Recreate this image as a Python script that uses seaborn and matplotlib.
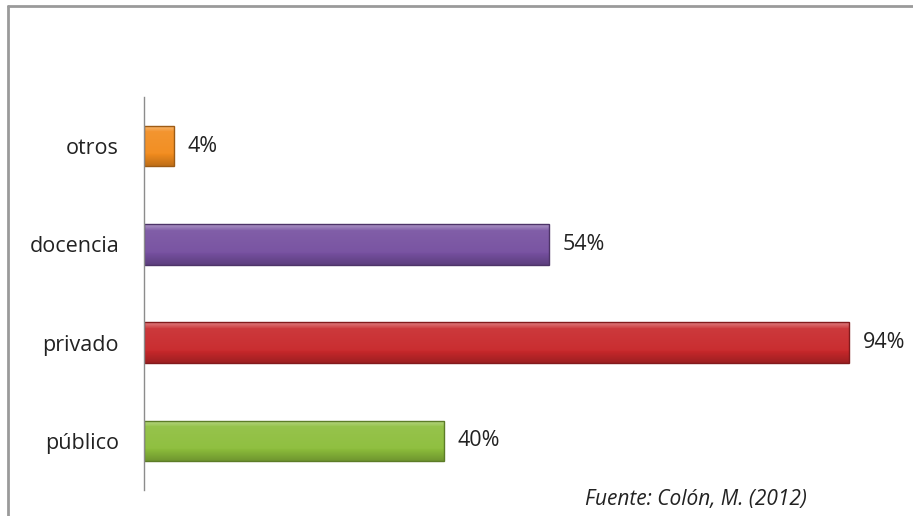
import numpy as np
import pandas as pd
import matplotlib.pyplot as plt
import matplotlib.colors as mcolors
from matplotlib.lines import Line2D
import seaborn as sns

# Datos del gráfico (de arriba hacia abajo)
categorias = ["otros", "docencia", "privado", "público"]
porcentajes = [4, 54, 94, 40]
colores = ["#F28C1E", "#7650A0", "#C8282B", "#8DBE3C"]
fuente = "Fuente: Colón, M. (2012)"

df = pd.DataFrame({"categoria": categorias, "porcentaje": porcentajes})

sns.set_style("white")
plt.rcParams["font.family"] = ["Open Sans", "DejaVu Sans"]

fig = plt.figure(figsize=(9.13, 5.16), dpi=100)
ax = fig.add_axes([144 / 913, 26 / 516, 750 / 913, 393 / 516])

sns.barplot(
    data=df,
    x="porcentaje",
    y="categoria",
    hue="categoria",
    palette=colores,
    saturation=1,
    legend=False,
    width=0.41,
    ax=ax,
)


def mezclar(c, otro, t):
    c = np.array(mcolors.to_rgb(c))
    otro = np.array(mcolors.to_rgb(otro))
    return c * (1 - t) + otro * t


# Efecto de degradado / bisel en cada barra
for patch in ax.patches:
    base = patch.get_facecolor()
    x0, y0 = patch.get_x(), patch.get_y()
    w, h = patch.get_width(), patch.get_height()
    if w <= 0:
        continue
    t = np.linspace(0, 1, 60)
    filas = []
    for v in t:
        if v < 0.15:
            filas.append(mezclar(base, "white", 0.4 - v * 2))
        elif v < 0.7:
            filas.append(mezclar(base, "white", 0.08 - (v - 0.15) * 0.1))
        else:
            filas.append(mezclar(base, "black", (v - 0.7) * 0.7))
    img = np.array(filas)[:, None, :]
    im = ax.imshow(img, extent=(x0, x0 + w, y0 + h, y0), origin="upper",
                   aspect="auto", zorder=patch.get_zorder() + 0.1)
    im.set_clip_path(patch)
    borde = plt.Rectangle((x0, y0), w, h, fill=False,
                          edgecolor=mezclar(base, "black", 0.35),
                          linewidth=1.0, zorder=patch.get_zorder() + 0.2)
    ax.add_patch(borde)

ax.set_xlim(0, 100)
ax.set_ylim(3.5, -0.5)

for cont in ax.containers:
    ax.bar_label(cont, labels=[f"{v:.0f}%" for v in cont.datavalues],
                 padding=10, fontsize=15.5, color="#222222")

ax.set_xlabel("")
ax.set_ylabel("")
ax.set_xticks([])
ax.tick_params(axis="y", length=0, pad=18, labelsize=15.5, labelcolor="#222222")
for lado in ["top", "right", "bottom"]:
    ax.spines[lado].set_visible(False)
ax.spines["left"].set_color("#8c8c8c")
ax.spines["left"].set_linewidth(1.0)

# Marco exterior (solo arriba y a la izquierda)
fig.add_artist(Line2D([8 / 913, 1], [1 - 6 / 516, 1 - 6 / 516],
                      transform=fig.transFigure, color="#9a9a9a", linewidth=2))
fig.add_artist(Line2D([8 / 913, 8 / 913], [0, 1 - 6 / 516],
                      transform=fig.transFigure, color="#9a9a9a", linewidth=2))

fig.text(585 / 913, 1 - 500 / 516, fuente, fontsize=15, style="italic",
         color="#222222", ha="left", va="center")

fig.savefig("out.png", dpi=100)
